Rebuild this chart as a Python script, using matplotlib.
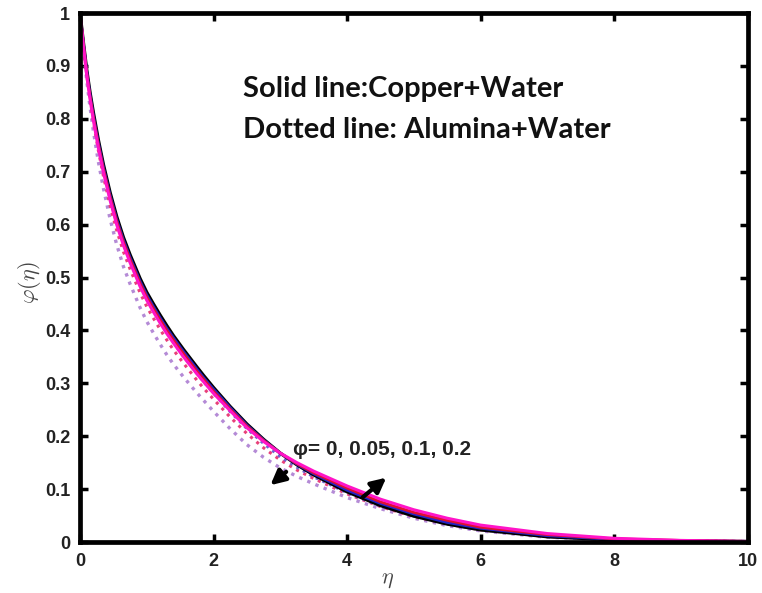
import matplotlib
matplotlib.use("Agg")
import matplotlib.pyplot as plt

plt.rcParams['mathtext.fontset'] = 'cm'

# similarity variable
eta = [0, 0.05, 0.1, 0.15, 0.2, 0.275, 0.35, 0.45, 0.55, 0.65, 0.75, 0.9,
       1.0, 1.1, 1.2, 1.3, 1.4, 1.55, 1.75, 1.85, 2.0, 2.25, 2.5, 2.75,
       3.0, 3.25, 3.5, 4.0, 4.5, 5.0, 5.5, 6.0, 7.0, 8.0, 9.0, 10.0]

# Copper + Water (solid), phi = 0, 0.05, 0.1, 0.2
cu_00 = [1, 0.945, 0.893, 0.850, 0.812, 0.760, 0.714, 0.661, 0.615, 0.576, 0.543, 0.498,
         0.472, 0.450, 0.429, 0.409, 0.390, 0.364, 0.331, 0.315, 0.292, 0.256, 0.223, 0.194,
         0.168, 0.146, 0.127, 0.095, 0.069, 0.049, 0.034, 0.023, 0.010, 0.004, 0.002, 0.001]
cu_05 = [1, 0.943, 0.890, 0.846, 0.807, 0.755, 0.709, 0.656, 0.610, 0.571, 0.538, 0.493,
         0.467, 0.445, 0.424, 0.404, 0.386, 0.360, 0.327, 0.311, 0.289, 0.254, 0.221, 0.193,
         0.168, 0.147, 0.129, 0.098, 0.073, 0.053, 0.037, 0.026, 0.012, 0.005, 0.002, 0.001]
cu_10 = [1, 0.941, 0.887, 0.842, 0.803, 0.751, 0.705, 0.652, 0.606, 0.567, 0.534, 0.489,
         0.463, 0.441, 0.420, 0.400, 0.382, 0.356, 0.323, 0.308, 0.285, 0.251, 0.219, 0.192,
         0.168, 0.148, 0.131, 0.102, 0.076, 0.056, 0.041, 0.028, 0.014, 0.006, 0.003, 0.001]
cu_20 = [1, 0.939, 0.883, 0.837, 0.797, 0.745, 0.699, 0.646, 0.600, 0.561, 0.528, 0.483,
         0.457, 0.435, 0.414, 0.394, 0.376, 0.350, 0.318, 0.303, 0.281, 0.248, 0.216, 0.190,
         0.168, 0.150, 0.134, 0.106, 0.081, 0.061, 0.045, 0.032, 0.016, 0.007, 0.003, 0.001]

# Alumina + Water (dotted), phi = 0.05, 0.1, 0.2
al_05 = [1, 0.942, 0.888, 0.843, 0.803, 0.750, 0.703, 0.649, 0.602, 0.563, 0.530, 0.485,
         0.459, 0.437, 0.416, 0.396, 0.377, 0.351, 0.319, 0.303, 0.281, 0.246, 0.214, 0.186,
         0.161, 0.141, 0.123, 0.093, 0.068, 0.049, 0.034, 0.023, 0.010, 0.004, 0.002, 0.001]
al_10 = [1, 0.940, 0.883, 0.836, 0.795, 0.740, 0.692, 0.636, 0.589, 0.549, 0.516, 0.471,
         0.445, 0.423, 0.402, 0.382, 0.363, 0.338, 0.306, 0.291, 0.270, 0.236, 0.205, 0.178,
         0.155, 0.136, 0.120, 0.091, 0.067, 0.048, 0.034, 0.023, 0.010, 0.004, 0.002, 0.001]
al_20 = [1, 0.935, 0.873, 0.822, 0.777, 0.719, 0.669, 0.611, 0.562, 0.521, 0.488, 0.443,
         0.417, 0.395, 0.374, 0.354, 0.336, 0.312, 0.282, 0.268, 0.247, 0.214, 0.184, 0.160,
         0.140, 0.124, 0.110, 0.084, 0.063, 0.045, 0.031, 0.021, 0.009, 0.004, 0.002, 0.001]

xticks = [0, 2, 4, 6, 8, 10]
yticks = [0, 0.1, 0.2, 0.3, 0.4, 0.5, 0.6, 0.7, 0.8, 0.9, 1]
ytick_labels = ['0', '0.1', '0.2', '0.3', '0.4', '0.5', '0.6', '0.7', '0.8', '0.9', '1']

fig = plt.figure(figsize=(7.62, 5.93), dpi=100)
ax = fig.add_axes([0.105, 0.086, 0.876, 0.892])

ax.plot(eta, al_20, ':', color='#b48ad6', lw=2.4)
ax.plot(eta, al_10, ':', color='#e8407a', lw=2.2)
ax.plot(eta, al_05, ':', color='#7060d0', lw=2.0)
ax.plot(eta, cu_00, '-', color='black', lw=2.4)
ax.plot(eta, cu_05, '-', color='#2424c8', lw=2.0)
ax.plot(eta, cu_10, '-', color='#e01030', lw=2.0)
ax.plot(eta, cu_20, '-', color='#ff14c8', lw=2.2)

ax.set_xlim(0, 10)
ax.set_ylim(0, 1)
ax.set_xticks(xticks)
ax.set_yticks(yticks)
ax.set_yticklabels(ytick_labels)

for sp in ax.spines.values():
    sp.set_linewidth(3.4)
ax.tick_params(direction='in', length=6, width=2.5, top=True, right=True,
               labelsize=13)
ax.tick_params(axis='x', pad=8)
ax.tick_params(axis='y', pad=7)
for lab in ax.get_xticklabels() + ax.get_yticklabels():
    lab.set_fontweight('bold')
    lab.set_family('Liberation Sans')
    lab.set_color('#222222')

ax.set_xlabel(r'$\eta$', fontsize=16, color='#444444')
ax.set_ylabel(r'$\varphi(\eta)$', fontsize=16, color='#444444')
ax.xaxis.set_label_coords(0.46, -0.053)
ax.yaxis.set_label_coords(-0.055, 0.49)

ax.text(2.44, 0.841, 'Solid line:Copper+Water', fontsize=21, fontweight='bold',
        family='Lato', color='#111111', va='baseline')
ax.text(2.44, 0.764, 'Dotted line: Alumina+Water', fontsize=21, fontweight='bold',
        family='Lato', color='#111111', va='baseline')

ax.text(3.19, 0.164, 'φ= 0, 0.05, 0.1, 0.2', fontsize=15, fontweight='bold',
        family='Liberation Sans', color='#222222', va='baseline')
arrow = dict(arrowstyle='-|>', color='black', lw=3, mutation_scale=22)
ax.annotate('', xy=(2.82, 0.104), xytext=(3.12, 0.136), arrowprops=arrow)
ax.annotate('', xy=(4.62, 0.125), xytext=(4.2, 0.081), arrowprops=arrow)

fig.savefig('out.png', dpi=100)
